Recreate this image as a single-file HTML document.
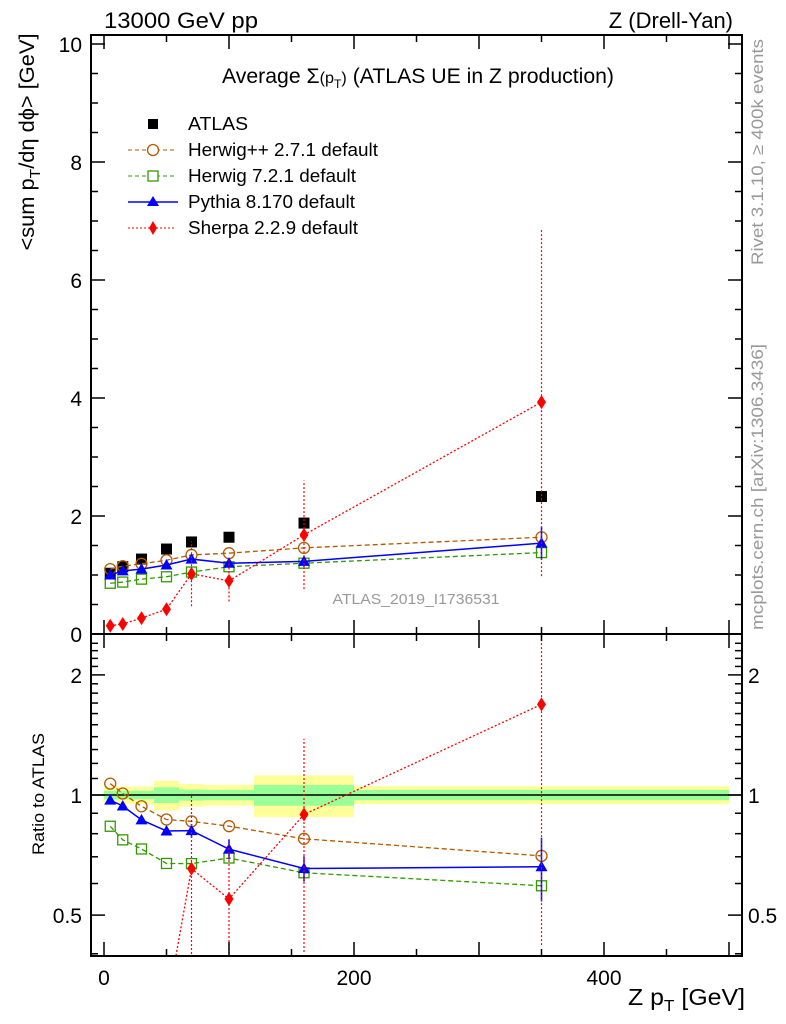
<!DOCTYPE html>
<html><head><meta charset="utf-8"><style>
html,body{margin:0;padding:0;background:#fff;width:786px;height:1024px;overflow:hidden}
#wrap{position:relative;width:786px;height:1024px;overflow:hidden}
svg{position:absolute;left:0;top:0;font-family:"Liberation Sans",sans-serif}
</style></head><body>
<div id="wrap">
<svg id="c" width="786" height="1024" viewBox="0 0 786 1024"></svg>
<svg width="786" height="1024">
<text x="104" y="28" font-size="22" textLength="154" lengthAdjust="spacingAndGlyphs">13000 GeV pp</text>
<text x="733" y="28" font-size="22" text-anchor="end">Z (Drell-Yan)</text>
<text x="222" y="83" font-size="21" textLength="392" lengthAdjust="spacingAndGlyphs">Average Σ<tspan font-size="16">(p</tspan><tspan font-size="12" dy="5">T</tspan><tspan font-size="16" dy="-5">)</tspan> (ATLAS UE in Z production)</text>
<g font-size="18">
<rect x="148" y="119" width="10" height="10" fill="#000"/>
<text x="188" y="130" textLength="60" lengthAdjust="spacingAndGlyphs">ATLAS</text>
<line x1="128" x2="176" y1="150" y2="150" stroke="#b35900" stroke-dasharray="4,3"/><circle cx="153" cy="150" r="5.5" fill="#fff" stroke="#b35900" stroke-width="1.3"/>
<text x="188" y="156" textLength="190" lengthAdjust="spacingAndGlyphs">Herwig++ 2.7.1 default</text>
<line x1="128" x2="176" y1="176" y2="176" stroke="#339900" stroke-dasharray="4,3"/><rect x="148" y="171" width="10" height="10" fill="#fff" stroke="#339900" stroke-width="1.3"/>
<text x="188" y="182" textLength="168" lengthAdjust="spacingAndGlyphs">Herwig 7.2.1 default</text>
<line x1="128" x2="178" y1="202" y2="202" stroke="#0000ff" stroke-width="1.5"/><polygon points="153,196 147,206 159,206" fill="#0000ff"/>
<text x="188" y="208" textLength="167" lengthAdjust="spacingAndGlyphs">Pythia 8.170 default</text>
<line x1="128" x2="176" y1="228" y2="228" stroke="#ff0000" stroke-dasharray="2,2"/><polygon points="153,221 149,228 153,235 157,228" fill="#ff0000"/>
<text x="188" y="234" textLength="170" lengthAdjust="spacingAndGlyphs">Sherpa 2.2.9 default</text>
</g>
<text x="416" y="604" font-size="15" fill="#999" text-anchor="middle" textLength="167" lengthAdjust="spacingAndGlyphs">ATLAS_2019_I1736531</text>
<text transform="translate(34,142) rotate(-90)" font-size="21" text-anchor="middle" textLength="217" lengthAdjust="spacingAndGlyphs">&lt;sum p<tspan font-size="15" dy="6">T</tspan><tspan dy="-6">/dη dϕ&gt; [GeV]</tspan></text>
<text transform="translate(44,794) rotate(-90)" font-size="17" text-anchor="middle" textLength="122" lengthAdjust="spacingAndGlyphs">Ratio to ATLAS</text>
<text x="745" y="1005" font-size="23" text-anchor="end" textLength="117" lengthAdjust="spacingAndGlyphs">Z p<tspan font-size="16" dy="6">T</tspan><tspan dy="-6"> [GeV]</tspan></text>
<text transform="translate(763,152) rotate(-90)" font-size="17" fill="#999" text-anchor="middle" textLength="226" lengthAdjust="spacingAndGlyphs">Rivet 3.1.10, ≥ 400k events</text>
<text transform="translate(763,487) rotate(-90)" font-size="17" fill="#999" text-anchor="middle" textLength="286" lengthAdjust="spacingAndGlyphs">mcplots.cern.ch [arXiv:1306.3436]</text>
</svg>
</div>
<script>
const xs=[5,15,30,50,70,100,160,350];
const binEdges=[0,10,20,40,60,80,120,200,500];
const atlas=[1.03,1.14,1.27,1.44,1.56,1.64,1.88,2.33];
const totErr=[0.05,0.05,0.05,0.085,0.065,0.06,0.12,0.052];
const statErr=[0.025,0.025,0.025,0.045,0.032,0.03,0.06,0.03];
const herwigpp=[1.10,1.15,1.19,1.25,1.34,1.37,1.46,1.64];
const herwig7=[0.86,0.88,0.93,0.97,1.05,1.14,1.20,1.38];
const pythia=[1.00,1.07,1.10,1.17,1.27,1.20,1.23,1.54];
const sherpa=[0.14,0.17,0.27,0.42,1.02,0.90,1.68,3.93];
const sherpaErr=[0,0,0,0,0.55,0.35,0.92,2.95];
const pythiaErr=[0,0,0,0,0.05,0.07,0.09,0.28];
const yTicksMain=[0,2,4,6,8,10];
const yTicksRatio=[0.5,1,2];
const xTickLabels=[0,200,400];

const L=91,R=742,T=35,MB=634,RB=956;
const X=v=>104+1.25*v;
const Y=v=>MB-59*v;
const YR=r=>795-399*Math.log10(r);
const clampR=y=>Math.max(MB-10,Math.min(RB+10,y));
const svg=document.getElementById('c');
const NS='http://www.w3.org/2000/svg';
function el(tag,a,parent){const e=document.createElementNS(NS,tag);for(const k in a)e.setAttribute(k,a[k]);(parent||svg).appendChild(e);return e;}
function txt(s,a,parent){const e=el('text',a,parent);e.textContent=s;return e;}

const bands=el('g',{});


for(let i=0;i<atlas.length;i++){
  const x0=X(binEdges[i]),x1=X(binEdges[i+1]);
  const r1=el('rect',{x:x0,y:YR(1+totErr[i]),width:x1-x0,height:YR(1-totErr[i])-YR(1+totErr[i]),fill:'#ffff99'},bands);
  
  
  const r2=el('rect',{x:x0,y:YR(1+statErr[i]),width:x1-x0,height:YR(1-statErr[i])-YR(1+statErr[i]),fill:'#99ff99'},bands);
  
  
}
el('line',{x1:L,x2:R,y1:YR(1),y2:YR(1),stroke:'#000','stroke-width':1.5});

const defs=el('defs',{});
const cp1=el('clipPath',{id:'cm'},defs);el('rect',{x:L,y:T,width:R-L,height:MB-T},cp1);
const cp2=el('clipPath',{id:'cr'},defs);el('rect',{x:L,y:MB,width:R-L,height:RB-MB},cp2);

function marker(g,type,x,y,color){
  let m;
  if(type==='sq')m=el('rect',{x:x-5.5,y:y-5.5,width:11,height:11,fill:'#000'},g);
  else if(type==='circ')m=el('circle',{cx:x,cy:y,r:5.5,fill:'none',stroke:color,'stroke-width':1.3},g);
  else if(type==='osq')m=el('rect',{x:x-5,y:y-5,width:10,height:10,fill:'none',stroke:color,'stroke-width':1.3},g);
  else if(type==='tri')m=el('polygon',{points:`${x},${y-6} ${x-6},${y+4.5} ${x+6},${y+4.5}`,fill:color},g);
  else if(type==='dia')m=el('polygon',{points:`${x},${y-7} ${x-4.5},${y} ${x},${y+7} ${x+4.5},${y}`,fill:color},g);
  return m;
}
const series=[
 {name:'herwigpp',vals:herwigpp,color:'#b35900',dash:'5,3',mk:'circ',w:1.3,err:null},
 {name:'herwig7',vals:herwig7,color:'#339900',dash:'5,3',mk:'osq',w:1.3,err:null},
 {name:'pythia',vals:pythia,color:'#0000ff',dash:'',mk:'tri',w:1.5,err:pythiaErr},
 {name:'sherpa',vals:sherpa,color:'#ff0000',dash:'2,2',mk:'dia',w:1.3,err:sherpaErr},
];
function draw(panel){
  const isR=panel==='ratio';
  const yf=isR?(v,i)=>YR(v/atlas[i]):(v)=>Y(v);
  const g=el('g',{'clip-path':isR?'url(#cr)':'url(#cm)'});
  
  
  if(!isR){
    atlas.forEach((v,i)=>{const m=marker(g,'sq',X(xs[i]),Y(v));
      
      });
  }
  series.forEach(s=>{
    const sg=el('g',{},g);
    
    
    // build segments, clipping long segments into panel range
    let pts=[];
    for(let i=0;i<s.vals.length;i++){
      let yy=yf(s.vals[i],i);
      pts.push([X(xs[i]),yy]);
    }
    let d='';
    for(let i=0;i<pts.length;i++){
      let [x,y]=pts[i];
      if(isR && y>RB+10 && i+1<pts.length){
        // move to where segment to next enters panel
        const [x2,y2]=pts[i+1];const t=(y-(RB+10))/(y-y2);x=x+(x2-x)*t;y=RB+10;
      }
      if(isR && y>RB+10 && i>0){
        const [x0,y0]=pts[i-1];const t=((RB+10)-y0)/(y-y0);x=x0+(x-x0)*t;y=RB+10;
      }
      d+=(i===0?'M':'L')+x+','+y;
    }
    el('path',{d:d,fill:'none',stroke:s.color,'stroke-width':s.w,'stroke-dasharray':s.dash},sg);
    s.vals.forEach((v,i)=>{
      if(s.err&&s.err[i]>0){
        const lo=Math.max(v-s.err[i],0.001),hi=v+s.err[i];
        let y1=yf(lo,i),y2=yf(hi,i);
        if(isR){y1=clampR(y1);y2=clampR(y2);}
        el('line',{x1:X(xs[i]),x2:X(xs[i]),y1:y1,y2:y2,stroke:s.color,'stroke-width':s.name==='pythia'?1.5:1.2,'stroke-dasharray':s.name==='sherpa'?'2,2':''},sg);
      }
      const yy=yf(v,i);
      if(isR&&(yy>RB+10||yy<MB-10))return;
      const m=marker(sg,s.mk,X(xs[i]),yy,s.color);
      
      
    });
  });
}
draw('main');draw('ratio');

el('rect',{x:L,y:T,width:R-L,height:MB-T,fill:'none',stroke:'#000','stroke-width':2});
el('rect',{x:L,y:MB,width:R-L,height:RB-MB,fill:'none',stroke:'#000','stroke-width':2});

const ax=el('g',{stroke:'#000','stroke-width':1.5});


for(let v=0;v<=500;v+=50){
  const len=v%100===0?14:7,x=X(v);
  [[T,1],[MB,-1],[MB,1],[RB,-1]].forEach(([y0,d])=>el('line',{x1:x,x2:x,y1:y0,y2:y0+d*len},ax));
}
xTickLabels.forEach(v=>{const t=txt(String(v),{x:X(v),y:985,'font-size':21,'text-anchor':'middle'});
  });
for(let v=0;v<=10;v+=0.5){
  const len=v%2===0?14:7,y=Y(v);
  el('line',{x1:L,x2:L+len,y1:y,y2:y},ax);
  el('line',{x1:R,x2:R-len,y1:y,y2:y},ax);
}
yTicksMain.forEach(v=>{const t=txt(String(v),{x:82,y:Y(v)+8,'font-size':21,'text-anchor':'end'});
  });
for(let r=0.4;r<=2.5;r+=0.1){
  const rr=Math.round(r*10)/10;const y=YR(rr);if(y<MB||y>RB)continue;
  const len=(rr===0.5||rr===1||rr===2)?14:7;
  el('line',{x1:L,x2:L+len,y1:y,y2:y},ax);
  el('line',{x1:R,x2:R-len,y1:y,y2:y},ax);
}
yTicksRatio.forEach(v=>{
  const t=txt(String(v),{x:82,y:YR(v)+8,'font-size':21,'text-anchor':'end'});
  
  const t2=txt(String(v),{x:748,y:YR(v)+8,'font-size':21});
  
});
</script>
</body></html>
